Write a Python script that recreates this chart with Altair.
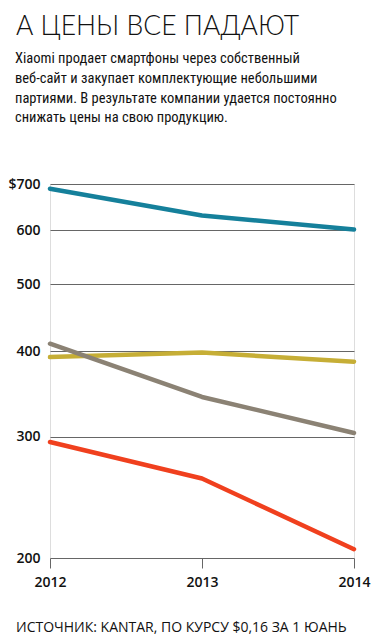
import altair as alt
import pandas as pd

years = [2012, 2013, 2014]
series_names = ["s1", "s2", "s3", "s4"]
teal_vals = [689, 630, 601]
yellow_vals = [392, 398, 386]
gray_vals = [410, 343, 304]
red_vals = [295, 261, 206]
colors = ["#15809b", "#c6ae36", "#8b8274", "#f0401e"]
y_ticks = [200, 300, 400, 500, 600, 700]

title_text = ["А ЦЕНЫ ВСЕ ПАДАЮТ"]
subtitle_lines = [
    "Xiaomi продает смартфоны через собственный",
    "веб-сайт и закупает комплектующие небольшими",
    "партиями. В результате компании удается постоянно",
    "снижать цены на свою продукцию.",
]
source_text = ["ИСТОЧНИК: KANTAR, ПО КУРСУ $0,16 ЗА 1 ЮАНЬ"]

rows = []
for name, vals in zip(series_names, [teal_vals, yellow_vals, gray_vals, red_vals]):
    for yr, v in zip(years, vals):
        rows.append({"year": yr, "price": v, "series": name})
df = pd.DataFrame(rows)

lines = alt.Chart(df).mark_line(strokeWidth=4.5, strokeCap="round", strokeJoin="round").encode(
    x=alt.X("year:O",
            scale=alt.Scale(type="point", padding=0),
            axis=alt.Axis(title=None, grid=False, domain=False, labelAngle=0,
                          ticks=True, tickSize=10, tickColor="#666", tickWidth=1,
                          labelFont="Open Sans", labelFontWeight=600, labelFontSize=14,
                          labelColor="#111", labelPadding=7, labelOverlap=False)),
    y=alt.Y("price:Q",
            scale=alt.Scale(type="log", domain=[200, 700], nice=False),
            axis=alt.Axis(values=y_ticks, title=None, grid=True, gridColor="#666", gridWidth=1,
                          domain=False, ticks=False,
                          labelExpr="datum.value == 700 ? '$700' : format(datum.value, 'd')",
                          labelFont="Open Sans", labelFontWeight=600, labelFontSize=14,
                          labelColor="#111", labelPadding=10)),
    color=alt.Color("series:N", scale=alt.Scale(domain=series_names, range=colors), legend=None),
)

ttl = alt.Chart(pd.DataFrame({"t": title_text})).mark_text(
    align="left", baseline="alphabetic", font="Lato", fontWeight=300, fontSize=26.5, color="#111"
).encode(text="t:N", x=alt.value(-34), y=alt.value(-149))

sub = alt.Chart(pd.DataFrame({"t": ["\n".join(subtitle_lines)]})).mark_text(
    align="left", baseline="alphabetic", lineBreak="\n", lineHeight=19.8,
    font="Roboto Condensed, Noto Sans Condensed, DejaVu Sans Condensed, Roboto",
    fontSize=14.5, color="#111"
).encode(text="t:N", x=alt.value(-35), y=alt.value(-121))

src = alt.Chart(pd.DataFrame({"t": source_text})).mark_text(
    align="left", baseline="middle", font="Open Sans", fontSize=14, color="#111"
).encode(text="t:N", x=alt.value(-34), y=alt.value(444))

chart = alt.layer(lines, ttl, sub, src).properties(
    width=304, height=374,
    autosize=alt.AutoSizeParams(type="none"),
    padding={"left": 50, "top": 184, "right": 26, "bottom": 84},
).configure_view(stroke=None).configure(background="white")

chart.save("out.html", embed_options={"renderer": "svg", "actions": False})
